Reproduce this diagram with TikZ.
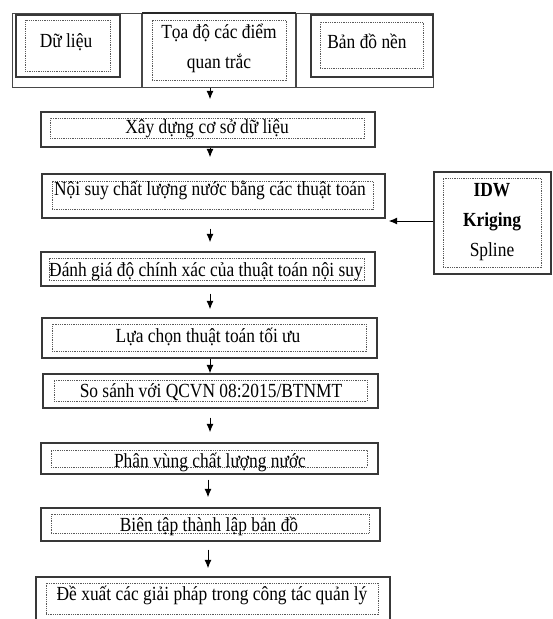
\documentclass[tikz,border=0pt]{standalone}
\usepackage{fontspec}
\setmainfont{Liberation Serif}[FakeStretch=0.87]
\usetikzlibrary{arrows.meta,calc}
\tikzset{
  solidbox/.style={draw=black!78, line width=1.4pt, inner sep=0pt},
  dotbox/.style={draw=black!65, line width=0.9pt, dash pattern=on 0.9pt off 0.9pt, inner sep=0pt},
  tblline/.style={draw=black!72, line width=1pt},
  lbl/.style={font=\fontsize{20}{30}\selectfont, inner sep=0pt, anchor=base, text=black},
  arr/.style={draw=black, line width=1pt, -{Latex[length=8.5pt,width=7pt]}}
}
\begin{document}
\begin{tikzpicture}[x=1pt,y=-1pt]
\useasboundingbox (0,0) rectangle (553,619);
\clip (0,0) rectangle (553,619);
\fill[white] (0,0) rectangle (553,619);

% top table
\node[tblline, minimum width=421pt, minimum height=74pt, inner sep=0pt] (tbl) at (222.5,50) {};
\draw[tblline, line width=1.3pt] (142,13) -- (142,87);
\draw[tblline, line width=1.3pt] (296,13) -- (296,87);
\draw[black!85, line width=2.2pt] (142,13) -- (296,13);

\node[solidbox, minimum width=104pt, minimum height=62pt] (dl) at (68,46) {};
\node[dotbox, minimum width=85pt, minimum height=51pt] (dli) at (67.5,45.5) {};
\node[lbl] (dlt) at (66,47) {Dữ liệu};

\node[dotbox, minimum width=134pt, minimum height=60pt] (tdi) at (219,50) {};
\node[lbl, anchor=center, align=center] (tdt) at (219,48) {Tọa độ các điểm\\quan trắc};

\node[solidbox, minimum width=122pt, minimum height=62pt] (bd) at (372,46) {};
\node[dotbox, minimum width=103pt, minimum height=46pt] (bdi) at (371.5,45) {};
\node[lbl] (bdt) at (367,48) {Bản đồ nền};

% steps
\node[solidbox, minimum width=334pt, minimum height=35pt] (xd) at (208,129.5) {};
\node[dotbox, minimum width=314pt, minimum height=20pt] (xdi) at (207,128) {};
\node[lbl] (xdt) at (207,133) {Xây dựng cơ sở dữ liệu};

\node[solidbox, minimum width=343pt, minimum height=44pt] (ns) at (213.5,196) {};
\node[dotbox, minimum width=321pt, minimum height=28pt] (nsi) at (212.5,195) {};
\node[lbl] (nst) at (210,195) {Nội suy chất lượng nước bằng các thuật toán};

\node[solidbox, minimum width=117pt, minimum height=102pt] (idw) at (492.5,223) {};
\node[dotbox, minimum width=98pt, minimum height=89pt] (idwi) at (492,222.5) {};
\node[lbl, anchor=center, align=center] (idwt) at (492,222) {\textbf{IDW}\\\textbf{Kriging}\\Spline};

\node[solidbox, minimum width=334pt, minimum height=34pt] (dg) at (208,269) {};
\node[dotbox, minimum width=315pt, minimum height=22pt] (dgi) at (206.5,269) {};
\node[lbl] (dgt) at (206,276) {Đánh giá độ chính xác của thuật toán nội suy};

\node[solidbox, minimum width=335pt, minimum height=40pt] (lc) at (209.5,338) {};
\node[dotbox, minimum width=314pt, minimum height=27pt] (lci) at (209,337.5) {};
\node[lbl] (lct) at (208,342) {Lựa chọn thuật toán tối ưu};

\node[solidbox, minimum width=335pt, minimum height=34pt] (ss) at (210.5,391) {};
\node[dotbox, minimum width=313pt, minimum height=21pt] (ssi) at (210.5,390.5) {};
\node[lbl] (sst) at (211,397) {So sánh với QCVN 08:2015/BTNMT};

\node[solidbox, minimum width=337pt, minimum height=31pt] (pv) at (209.5,458.5) {};
\node[dotbox, minimum width=316pt, minimum height=17pt] (pvi) at (209,458.5) {};
\node[lbl] (pvt) at (210,467) {Phân vùng chất lượng nước};

\node[solidbox, minimum width=339pt, minimum height=33pt] (bt) at (210.5,524.5) {};
\node[dotbox, minimum width=318pt, minimum height=19pt] (bti) at (210,523.5) {};
\node[lbl] (btt) at (209,531) {Biên tập thành lập bản đồ};

\node[solidbox, minimum width=354pt, minimum height=53pt] (dx) at (213,603.5) {};
\node[dotbox, minimum width=332pt, minimum height=31pt] (dxi) at (212,598.5) {};
\node[lbl] (dxt) at (212,600) {Đề xuất các giải pháp trong công tác quản lý};

% arrows
\coordinate (ax) at (210,0);
\coordinate (bx) at (208,0);
\draw[arr, shorten >=12pt] (tbl.south -| ax) -- (xd.north -| ax);
\draw[arr, shorten >=16pt] (xd.south -| ax) -- (ns.north -| ax);
\draw[arr, shorten <=10pt, shorten >=9pt] (ns.south -| ax) -- (dg.north -| ax);
\draw[arr, shorten <=7pt, shorten >=8pt] (dg.south -| ax) -- (lc.north -| ax);
\draw[arr] (lc.south -| ax) -- (ss.north -| ax);
\draw[arr, shorten <=9pt, shorten >=10pt] (ss.south -| ax) -- (pv.north -| ax);
\draw[arr, shorten <=5pt, shorten >=10pt] (pv.south -| bx) -- (bt.north -| bx);
\draw[arr, shorten <=8pt, shorten >=8pt] (bt.south -| bx) -- (dx.north -| bx);
\draw[arr, shorten >=3pt] ([yshift=2pt]idw.west) -- ([yshift=2pt]idw.west -| ns.east);
\end{tikzpicture}
\end{document}
